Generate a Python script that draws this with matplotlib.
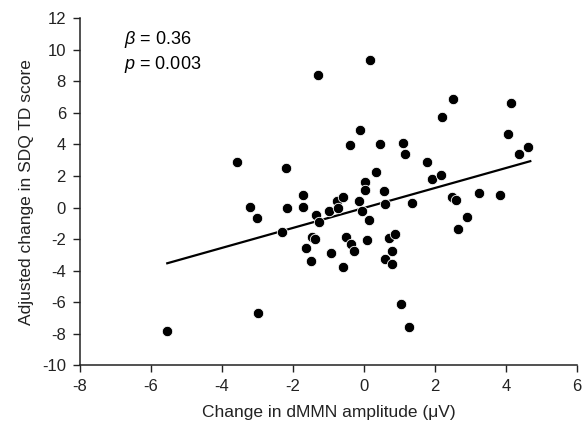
import matplotlib
matplotlib.use("Agg")
import matplotlib.pyplot as plt
import numpy as np

# change in dMMN amplitude (uV) vs adjusted change in SDQ TD score
dmmn_change = [-5.54, -3.59, -3.22, -3.01, -2.99, -2.30, -2.20, -2.17, -1.73, -1.73,
               -1.63, -1.49, -1.46, -1.38, -1.35, -1.30, -1.26, -0.98, -0.94, -0.77,
               -0.74, -0.60, -0.60, -0.50, -0.39, -0.37, -0.28, -0.15, -0.12, -0.07,
               0.02, 0.02, 0.08, 0.15, 0.18, 0.35, 0.45, 0.56, 0.59, 0.60,
               0.69, 0.80, 0.80, 0.86, 1.03, 1.11, 1.15, 1.27, 1.35, 1.78,
               1.92, 2.16, 2.20, 2.47, 2.50, 2.58, 2.64, 2.89, 3.25, 3.83,
               4.04, 4.13, 4.35, 4.62]
sdq_change = [-7.85, 2.87, 0.06, -0.66, -6.66, -1.57, 2.49, -0.03, 0.82, 0.04,
              -2.58, -3.39, -1.84, -1.97, -0.47, 8.41, -0.89, -0.19, -2.86, 0.42,
              -0.03, 0.69, -3.75, -1.88, 3.95, -2.31, -2.73, 0.42, 4.94, -0.19,
              1.64, 1.12, -2.03, -0.81, 9.34, 2.26, 4.03, 1.03, -3.26, 0.21,
              -1.95, -2.73, -3.58, -1.69, -6.11, 4.12, 3.40, -7.57, 0.29, 2.87,
              1.81, 2.09, 5.73, 0.65, 6.89, 0.48, -1.36, -0.58, 0.95, 0.80,
              4.65, 6.65, 3.42, 3.82]

# fitted line as drawn in the figure
fit_slope = 0.633
fit_intercept = -0.02
fit_x = [-5.54, 4.68]

x_ticks = [-8, -6, -4, -2, 0, 2, 4, 6]
y_ticks = [-10, -8, -6, -4, -2, 0, 2, 4, 6, 8, 10, 12]

plt.rcParams['font.family'] = ['Liberation Sans', 'DejaVu Sans']
plt.rcParams['axes.unicode_minus'] = False
plt.rcParams['mathtext.fontset'] = 'custom'
plt.rcParams['mathtext.it'] = 'Liberation Sans:italic'
plt.rcParams['mathtext.rm'] = 'Liberation Sans'

fig = plt.figure(figsize=(5.83, 4.34), dpi=100)
ax = fig.add_axes([0.137, 0.158, 0.853, 0.800])

ax.plot(dmmn_change, sdq_change, 'o', color='black', markersize=7.5,
        markeredgecolor='white', markeredgewidth=0.6, zorder=3)

fx = np.array(fit_x)
ax.plot(fx, fit_slope * fx + fit_intercept, color='black', linewidth=1.6, zorder=2)

ax.set_xlim(-8, 6)
ax.set_ylim(-10, 12)
ax.set_xticks(x_ticks)
ax.set_yticks(y_ticks)
ax.tick_params(direction='out', length=5, width=1, labelsize=12, colors='#222222', pad=5)

for side in ['top', 'right']:
    ax.spines[side].set_visible(False)
for side in ['left', 'bottom']:
    ax.spines[side].set_linewidth(1.1)
    ax.spines[side].set_color('#222222')

ax.set_xlabel('Change in dMMN amplitude (\u03bcV)', fontsize=12.5, color='#222222', labelpad=8)
ax.set_ylabel('Adjusted change in SDQ TD score', fontsize=12.5, color='#222222', labelpad=6)

ax.text(-6.75, 11.3, r'$\it{\beta}$ = 0.36', fontsize=13, va='top', ha='left')
ax.text(-6.75, 9.75, r'$\it{p}$ = 0.003', fontsize=13, va='top', ha='left')

fig.savefig('out.png', dpi=100, facecolor='white')
